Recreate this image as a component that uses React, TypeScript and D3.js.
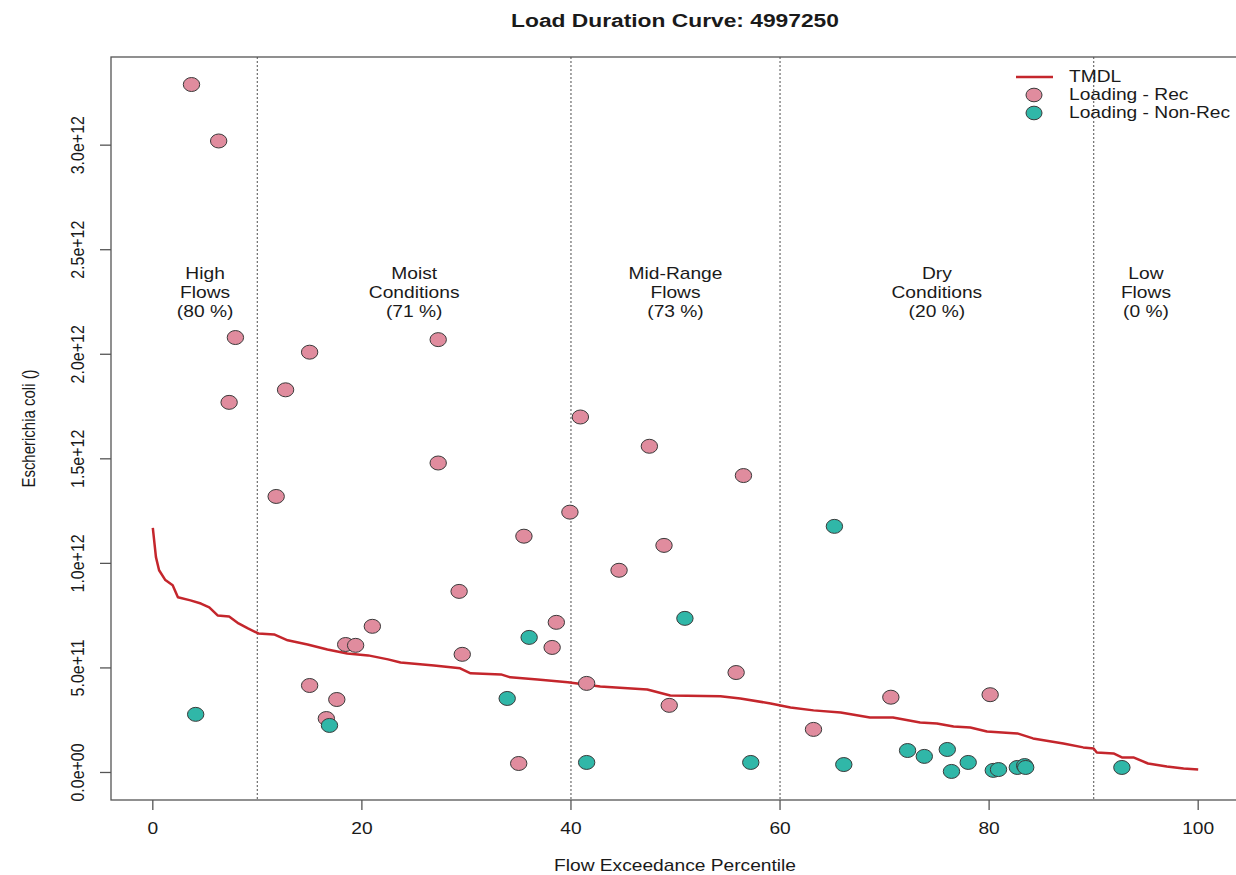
import * as d3 from 'd3';

// TMDL curve (flow exceedance percentile vs load)
const tmdlPct = [0, 0.3, 0.6, 1.2, 1.9, 2.4, 3.6, 4.6, 5.4, 6.2, 7.3, 8.2, 9.1, 10.1, 11.6, 12.9, 14.8, 16.7, 18.6, 20.6, 22.5, 23.7, 26.9, 29.4, 30.4, 33.3, 34.2, 36.8, 39.7, 42.8, 47.3, 49.5, 54.3, 56.2, 59.1, 61.0, 63.2, 65.8, 68.6, 70.8, 73.4, 75.0, 76.6, 78.2, 79.8, 82.7, 84.2, 87.1, 89.0, 90.0, 90.3, 91.9, 92.7, 93.8, 95.2, 97.0, 98.6, 100];
const tmdlLoad = [1.17e12, 1.03e12, 0.967e12, 0.92e12, 0.895e12, 0.838e12, 0.823e12, 0.808e12, 0.79e12, 0.751e12, 0.746e12, 0.713e12, 0.689e12, 0.665e12, 0.66e12, 0.632e12, 0.612e12, 0.588e12, 0.569e12, 0.56e12, 0.541e12, 0.526e12, 0.512e12, 0.498e12, 0.474e12, 0.469e12, 0.455e12, 0.445e12, 0.431e12, 0.411e12, 0.397e12, 0.368e12, 0.364e12, 0.354e12, 0.33e12, 0.311e12, 0.297e12, 0.287e12, 0.263e12, 0.263e12, 0.239e12, 0.234e12, 0.22e12, 0.215e12, 0.196e12, 0.187e12, 0.163e12, 0.139e12, 0.12e12, 0.115e12, 0.096e12, 0.091e12, 0.072e12, 0.072e12, 0.043e12, 0.029e12, 0.019e12, 0.014e12];

// recreational season samples
const recPct = [3.7, 6.3, 7.9, 7.3, 15.0, 12.7, 11.8, 15.0, 17.6, 16.6, 18.45, 19.4, 21.0, 27.3, 27.3, 29.3, 29.6, 35.5, 38.6, 38.2, 35.0, 39.9, 41.5, 49.4, 55.8, 40.9, 47.5, 56.5, 48.9, 44.6, 63.2, 70.6, 80.1];
const recLoad = [3.29e12, 3.02e12, 2.08e12, 1.77e12, 2.01e12, 1.83e12, 1.32e12, 0.416e12, 0.349e12, 0.258e12, 0.612e12, 0.608e12, 0.699e12, 2.07e12, 1.48e12, 0.866e12, 0.565e12, 1.13e12, 0.718e12, 0.598e12, 0.043e12, 1.245e12, 0.426e12, 0.321e12, 0.478e12, 1.70e12, 1.56e12, 1.42e12, 1.086e12, 0.967e12, 0.206e12, 0.36e12, 0.372e12];

// non-recreational season samples
const nonRecPct = [4.1, 16.9, 33.9, 36.0, 41.5, 50.9, 57.2, 65.2, 66.1, 72.2, 73.8, 76.0, 76.4, 78.0, 80.4, 80.9, 82.7, 83.4, 83.5, 92.7];
const nonRecLoad = [0.278e12, 0.225e12, 0.354e12, 0.646e12, 0.048e12, 0.737e12, 0.048e12, 1.177e12, 0.038e12, 0.105e12, 0.077e12, 0.11e12, 0.005e12, 0.048e12, 0.01e12, 0.014e12, 0.024e12, 0.033e12, 0.024e12, 0.024e12];

const zoneBreaks = [10, 40, 60, 90];
const zoneBounds = [0, 10, 40, 60, 90, 100];
const zoneNames = [['High', 'Flows'], ['Moist', 'Conditions'], ['Mid-Range', 'Flows'], ['Dry', 'Conditions'], ['Low', 'Flows']];
const zonePercents = ['(80 %)', '(71 %)', '(73 %)', '(20 %)', '(0 %)'];

const xTicks = [0, 20, 40, 60, 80, 100];
const yTicks = [0, 0.5e12, 1.0e12, 1.5e12, 2.0e12, 2.5e12, 3.0e12];

const REC = '#E08C9E';
const NONREC = '#30B7A8';
const LINE = '#C4262C';
const FONT = "'Liberation Sans', Arial, Helvetica, sans-serif";
// the source image is a bit stretched sideways, text included
const SX = 1.2;

function fmtSci(v: number) {
  const [m, e] = v.toExponential(1).split('e');
  const sign = e[0];
  const digits = e.slice(1).padStart(2, '0');
  return `${m}e${sign}${digits}`;
}

function HText({ x, y, children, anchor = 'start', size = 16, weight = 400 }: {
  x: number; y: number; children: React.ReactNode; anchor?: string; size?: number; weight?: number;
}) {
  return (
    <text transform={`translate(${x},${y}) scale(${SX},1)`} textAnchor={anchor} fontSize={size} fontWeight={weight} fill="#1a1a1a">
      {children}
    </text>
  );
}

export default function App() {
  const width = 1236;
  const height = 875;
  const left = 111;
  const right = 1240;
  const top = 57;
  const bottom = 800;

  // R style axes: data range padded 4% on each side
  const xExt = [0, 100];
  const yMax = d3.max([...recLoad, ...nonRecLoad, ...tmdlLoad]) ?? 0;
  const xPad = (xExt[1] - xExt[0]) * 0.04;
  const yPad = yMax * 0.04;

  const x = d3.scaleLinear().domain([xExt[0] - xPad, xExt[1] + xPad]).range([left, right]);
  const y = d3.scaleLinear().domain([-yPad, yMax + yPad]).range([bottom, top]);

  const line = d3
    .line<number>()
    .x((_, i) => x(tmdlPct[i]))
    .y((d) => y(d));

  const rx = 8.2;
  const ry = 7;

  return (
    <>
      <style>{'body{margin:0}'}</style>
      <svg width={width} height={height} style={{ display: 'block', background: '#fff' }} fontFamily={FONT}>
        <HText x={675} y={27} anchor="middle" size={19} weight={700}>
          Load Duration Curve: 4997250
        </HText>

        {/* zone separators */}
        {zoneBreaks.map((b) => (
          <line key={b} x1={x(b)} x2={x(b)} y1={top} y2={bottom} stroke="#777" strokeWidth={1.3} strokeDasharray="2,2" />
        ))}

        {/* zone labels */}
        {zoneNames.map((lines, i) => {
          const cx = x((zoneBounds[i] + zoneBounds[i + 1]) / 2);
          return (
            <g key={i}>
              <HText x={cx} y={279} anchor="middle">{lines[0]}</HText>
              <HText x={cx} y={298} anchor="middle">{lines[1]}</HText>
              <HText x={cx} y={317} anchor="middle">{zonePercents[i]}</HText>
            </g>
          );
        })}

        <path d={line(tmdlLoad) ?? ''} fill="none" stroke={LINE} strokeWidth={2.5} strokeLinejoin="round" />

        {recPct.map((p, i) => (
          <ellipse key={`r${i}`} cx={x(p)} cy={y(recLoad[i])} rx={rx} ry={ry} fill={REC} stroke="#3a3a3a" strokeWidth={1} />
        ))}
        {nonRecPct.map((p, i) => (
          <ellipse key={`n${i}`} cx={x(p)} cy={y(nonRecLoad[i])} rx={rx} ry={ry} fill={NONREC} stroke="#3a3a3a" strokeWidth={1} />
        ))}

        {/* box */}
        <rect x={left} y={top} width={right - left} height={bottom - top} fill="none" stroke="#555" strokeWidth={1.3} />

        {/* x axis */}
        {xTicks.map((t) => (
          <g key={t}>
            <line x1={x(t)} x2={x(t)} y1={bottom} y2={bottom + 10} stroke="#555" strokeWidth={1.3} />
            <HText x={x(t)} y={834} anchor="middle">{t}</HText>
          </g>
        ))}
        <HText x={675} y={871} anchor="middle">Flow Exceedance Percentile</HText>

        {/* y axis */}
        {yTicks.map((t) => (
          <g key={t}>
            <line x1={left - 11} x2={left} y1={y(t)} y2={y(t)} stroke="#555" strokeWidth={1.3} />
            <text transform={`translate(84,${y(t)}) rotate(-90) scale(1,${SX})`} textAnchor="middle" fontSize={16} fill="#1a1a1a">
              {fmtSci(t)}
            </text>
          </g>
        ))}
        <text transform={`translate(35,${(top + bottom) / 2}) rotate(-90) scale(1,${SX})`} textAnchor="middle" fontSize={15} fill="#1a1a1a">
          Escherichia coli ()
        </text>

        {/* legend */}
        <line x1={1016} x2={1053} y1={77} y2={77} stroke={LINE} strokeWidth={2.5} />
        <HText x={1069} y={82}>TMDL</HText>
        <ellipse cx={1034} cy={95} rx={8} ry={6.8} fill={REC} stroke="#3a3a3a" strokeWidth={1} />
        <HText x={1069} y={100}>Loading - Rec</HText>
        <ellipse cx={1034} cy={113} rx={8} ry={6.8} fill={NONREC} stroke="#3a3a3a" strokeWidth={1} />
        <HText x={1069} y={118}>Loading - Non-Rec</HText>
      </svg>
    </>
  );
}
